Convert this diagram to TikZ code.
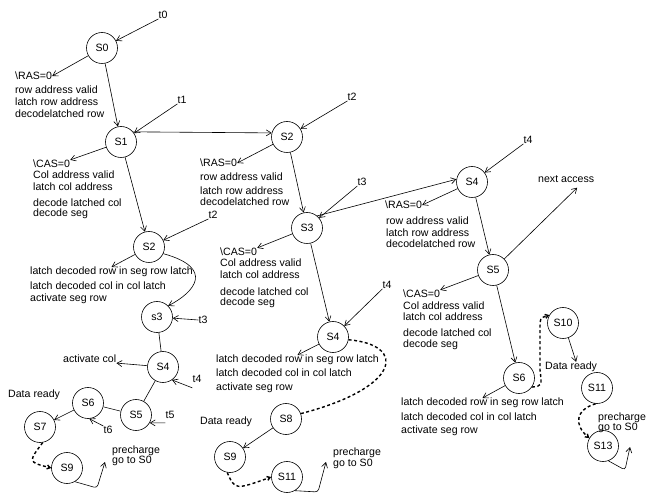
\documentclass[tikz,border=0pt]{standalone}
\usepackage{fontspec}
\setmainfont{Liberation Sans}
\usepackage{tikz}
\usetikzlibrary{arrows.meta}

\tikzset{
    state/.style={draw, circle, minimum size=31pt, inner sep=0pt, line width=0.6pt, font=\fontsize{10.6}{12}\selectfont},
    lbl/.style={inner sep=0pt, font=\fontsize{10.6}{12}\selectfont},
    block/.style={lbl, anchor=north west, align=left},
    link/.style={line width=0.6pt, -{Straight Barb[length=5pt,width=6pt]}},
    wire/.style={line width=0.6pt},
    dashlink/.style={line width=1.4pt, dash pattern=on 3pt off 2.5pt},
}

\begin{document}
\begin{tikzpicture}[x=1pt, y=-1pt]
    \useasboundingbox (0, 0) rectangle (651, 494);

    % first access
    \node [state] (S0) at (102, 48) {S0};
    \node [state] (S1) at (121, 142) {S1};
    \node [state] (S2a) at (149, 247) {S2};
    \node [state] (s3) at (157, 317) {s3};
    \node [state] (S4a) at (163, 367) {S4};
    \node [state] (S5a) at (136, 415) {S5};
    \node [state] (S6a) at (88, 403) {S6};
    \node [state] (S7) at (40, 427) {S7};
    \node [state] (S9a) at (67, 468) {S9};

    \node [lbl] (t0) at (163, 15) {t0};
    \node [lbl] (t1) at (182, 100) {t1};
    \node [lbl] (t2a) at (213, 215) {t2};
    \node [lbl] (t3a) at (203, 320) {t3};
    \node [lbl] (t4a) at (197, 379) {t4};
    \node [lbl] (t5) at (170, 415) {t5};
    \node [lbl] (t6) at (108, 430) {t6};

    \node [lbl, anchor=west] (ras0) at (15, 76) {\textbackslash RAS=0};
    \node [block] (rowa) at (15, 86) {row address valid\\latch row address\\decodelatched row};
    \node [lbl, anchor=west] (cas1) at (33, 164) {\textbackslash CAS=0};
    \node [block] (cola) at (33, 171) {Col address valid\\latch col address\\[4pt]decode latched col\\[-2pt]decode seg};
    \node [block] (latcha) at (30, 267) {latch decoded row in seg row latch\\[3pt]latch decoded col in col latch\\activate seg row};
    \node [lbl, anchor=west] (act) at (63, 359) {activate col};
    \node [lbl, anchor=west] (data1) at (8, 395) {Data ready};
    \node [block] (pre1) at (112, 446) {precharge\\[-2pt]go to S0};
    \coordinate (back1) at (105, 462);

    \draw [link] (t0.south west) -- (S0);
    \draw [link] (S0) -- (ras0.east);
    \draw [link] (S0) -- (S1);
    \draw [link] (t1.south west) -- (S1);
    \draw [link] (S1) -- (cas1.north east);
    \draw [link] (S1) -- (S2a);
    \draw [link] (t2a.south west) -- (S2a);
    \draw [link] (S2a) -- (latcha.north);
    \draw [link] (S2a.-25) .. controls (215, 268) and (195, 292) .. (s3.45);
    \draw [link] (t3a.west) -- (s3);
    \draw [wire] (s3) -- (S4a);
    \draw [link] (S4a) -- (act.south east);
    \draw [link] ([yshift=-5pt]t4a.south west) -- (S4a.-55);
    \draw [wire] (S4a) -- (S5a);
    \draw [link] ([yshift=-4pt]t5.south west) -- (S5a.-30);
    \draw [wire] (S5a) -- (S6a);
    \draw [link] (t6.north west) -- (S6a.-85);
    \draw [link] (S6a) -- (S7);
    \draw [dashlink, -{Straight Barb[length=3pt,width=4pt]}] (S7.-80) .. controls (28, 462) .. (S9a.west);
    \draw [link, rounded corners=3pt] (S9a.-60) -- (97, 488) -- (back1);

    % second access
    \node [state] (S2b) at (287, 137) {S2};
    \node [state] (S3b) at (307, 228) {S3};
    \node [state] (S4b) at (333, 337) {S4};
    \node [state] (S8) at (286, 419) {S8};
    \node [state] (S9b) at (230, 457) {S9};
    \node [state] (S11b) at (287, 477) {S11};

    \node [lbl] (t2b) at (352, 97) {t2};
    \node [lbl] (t3b) at (362, 182) {t3};
    \node [lbl] (t4b) at (387, 285) {t4};

    \node [lbl, anchor=west] (ras2) at (200, 163) {\textbackslash RAS=0};
    \node [block] (rowb) at (200, 173) {row address valid\\[2pt]latch row address\\[-1pt]decodelatched row};
    \node [lbl, anchor=west] (cas3) at (220, 252) {\textbackslash CAS=0};
    \node [block] (colb) at (220, 259) {Col address valid\\latch col address\\[5pt]decode latched col\\[-2pt]decode seg};
    \node [block] (latchb) at (216, 355) {latch decoded row in seg row latch\\[2pt]latch decoded col in col latch\\[2pt]activate seg row};
    \node [lbl, anchor=west] (data2) at (200, 422) {Data ready};
    \node [block] (pre2) at (333, 448) {precharge\\[-1pt]go to S0};
    \coordinate (back2) at (326, 462);

    \draw [link] (S1.40) -- (S2b.165);
    \draw [link] (t2b.south west) -- (S2b);
    \draw [link] (S2b) -- (ras2.east);
    \draw [link] (S2b) -- (S3b);
    \draw [link] (t3b.south west) -- (S3b);
    \draw [link] (S3b) -- (cas3.north east);
    \draw [link] (S3b) -- (S4b);
    \draw [link] (t4b.south west) -- (S4b);
    \draw [link] (S4b) -- (latchb.north);
    \draw [dashlink] (S4b.-10) .. controls (408, 345) and (400, 388) .. (S8.20);
    \draw [link] (S8) -- (S9b);
    \draw [dashlink, -{Straight Barb[length=3pt,width=4pt]}] (S9b.-100) .. controls (235, 490) .. (S11b.west);
    \draw [link, rounded corners=3pt] (S11b.-60) -- (318, 492) -- (back2);

    % third access
    \node [state] (S4c) at (472, 182) {S4};
    \node [state] (S5c) at (493, 270) {S5};
    \node [state] (S6c) at (519, 378) {S6};
    \node [state] (S10) at (563, 323) {S10};
    \node [state] (S11c) at (597, 388) {S11};
    \node [state] (S13) at (603, 446) {S13};

    \node [lbl] (t4c) at (528, 140) {t4};

    \node [lbl, anchor=west] (ras4) at (385, 205) {\textbackslash RAS=0};
    \node [block] (rowc) at (386, 217) {row address valid\\latch row address\\[-1pt]decodelatched row};
    \node [lbl, anchor=west] (nxt) at (538, 179) {next access};
    \node [lbl, anchor=west] (cas5) at (403, 294) {\textbackslash CAS=0};
    \node [block] (colc) at (403, 302) {Col address valid\\[-1pt]latch col address\\[4pt]decode latched col\\[-1pt]decode seg};
    \node [block] (latchc) at (401, 398) {latch decoded row in seg row latch\\[3pt]latch decoded col in col latch\\[1pt]activate seg row};
    \node [lbl, anchor=west] (data3) at (545, 367) {Data ready};
    \node [block] (pre3) at (598, 413) {precharge\\[-2pt]go to S0};
    \coordinate (back3) at (630, 447);

    \draw [link] (S3b.50) -- (S4c.170);
    \draw [link] (t4c.south west) -- (S4c);
    \draw [link] (S4c) -- (ras4.east);
    \draw [link] (S4c) -- (S5c);
    \draw [link] (S5c) -- ([xshift=11pt, yshift=-5pt]nxt.south);
    \draw [link] (S5c) -- (cas5.north east);
    \draw [link] (S5c) -- (S6c);
    \draw [link] (S6c) -- (latchc.north);
    \draw [dashlink, -{Straight Barb[length=3pt,width=4pt]}] (S6c.-35) .. controls (542, 386) .. (540, 370) -- (540, 330) .. controls (540, 318) .. (S10.150);
    \draw [link] (S10.-70) -- ([xshift=5pt]data3.north);
    \draw [dashlink, -{Straight Barb[length=3pt,width=4pt]}] (S11c.-95) .. controls (575, 410) and (574, 425) .. (S13.150);
    \draw [link, rounded corners=3pt] (S13.-70) -- (625, 470) -- (back3);
\end{tikzpicture}
\end{document}
